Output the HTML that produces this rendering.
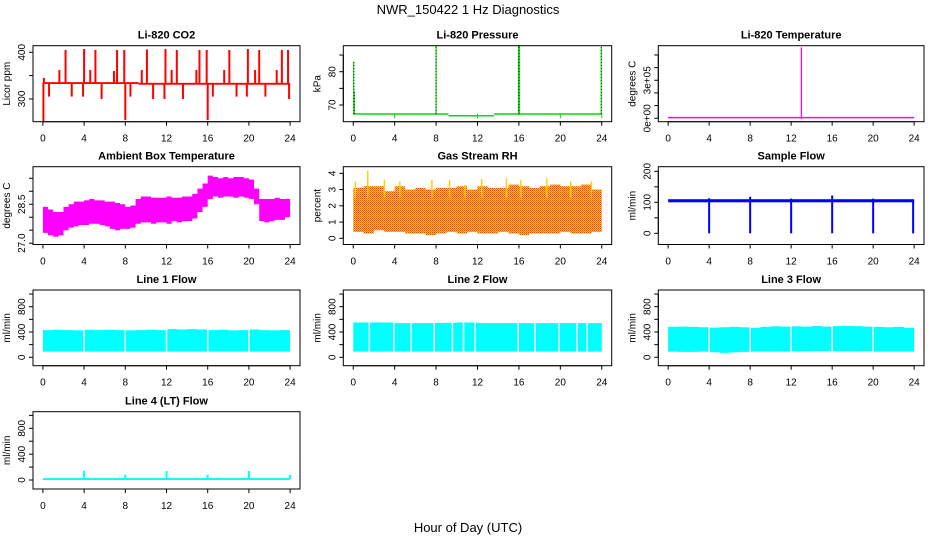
<!DOCTYPE html>
<html><head><meta charset="utf-8"><style>
html,body{margin:0;padding:0;background:#fff;}
svg{display:block;font-family:"Liberation Sans",sans-serif;}
</style></head><body>
<svg id="c" width="936" height="540" viewBox="0 0 936 540" xmlns="http://www.w3.org/2000/svg">
<defs>
<pattern id="rhpat" width="2" height="2" patternUnits="userSpaceOnUse">
<rect width="2" height="2" fill="#ffd800"/><rect width="1" height="1" fill="#ff3000"/><rect x="1" y="1" width="1" height="1" fill="#f07000"/>
</pattern>
</defs>
<text x="468" y="14" text-anchor="middle" font-size="13">NWR_150422 1 Hz Diagnostics</text>
<text x="468" y="532" text-anchor="middle" font-size="13">Hour of Day (UTC)</text>
</svg>
<script>
// ---------- data ----------
const xTicks=[0,4,8,12,16,20,24];
// CO2
const co2BaseHours=[0,9.3,24];
const co2BaseVals=[334,332.5,332.5];
const co2SpikeHours=[2.2,4.0,5.1,7.2,7.9,10.1,11.9,13.0,15.2,15.9,18.1,19.9,21.0,23.2,23.8,1.6,4.6,6.9,9.6,12.5,14.9,17.6,20.6,22.7,0.1,0.6,2.8,3.9,5.7,8.5,10.7,11.8,13.6,16.5,18.8,19.8,21.6,23.9,0.05,8.0,16.0];
const co2SpikeVals=[405,407,405,405,405,406,407,405,405,405,405,407,405,405,405,362,362,360,362,362,362,362,362,362,345,305,305,305,300,305,300,300,300,305,305,305,305,300,252,255,255];
// Pressure
const presBaseHours=[0,9.2,13.6,24];
const presBaseVals=[67.3,66.8,67.3,67.3];
const presSpikeHours=[0.05,0.1,8.0,16.0,23.95];
const presSpikeVals=[83,74,88,88,87.5];
const presDipHours=[4,12,20,24];
const presDipVals=[66,66,66,66];
// Temperature
const tempLevel=[5000];
const tempSpikeHour=[13];
const tempSpikeVal=[560000];
// Ambient box temperature (half-hour bins)
const ambHi=[28.4,28.3,28.2,28.2,28.4,28.5,28.6,28.6,28.65,28.7,28.65,28.65,28.6,28.6,28.55,28.5,28.4,28.45,28.7,28.8,28.8,28.75,28.75,28.75,28.8,28.75,28.75,28.8,28.8,28.9,29.1,29.3,29.6,29.55,29.5,29.55,29.5,29.55,29.55,29.5,29.45,29.1,28.7,28.7,28.7,28.75,28.7,28.7];
const ambLo=[27.4,27.3,27.25,27.3,27.5,27.6,27.65,27.7,27.7,27.75,27.75,27.7,27.65,27.55,27.5,27.55,27.55,27.6,27.75,27.8,27.8,27.75,27.8,27.8,27.75,27.85,27.8,27.85,27.85,27.95,28.2,28.4,28.7,28.8,28.75,28.8,28.8,28.75,28.8,28.75,28.7,28.5,27.85,27.8,27.85,27.9,27.9,28.0];
// RH (hourly bins)
const rhHi=[3.1,3.2,3.2,2.9,3.2,3.0,3.1,3.0,3.1,3.1,3.2,3.0,3.2,3.1,3.1,3.3,3.2,3.1,3.2,3.3,3.2,3.2,3.3,3.0];
const rhLo=[0.4,0.3,0.5,0.4,0.4,0.3,0.3,0.2,0.3,0.4,0.3,0.4,0.3,0.3,0.4,0.3,0.2,0.3,0.3,0.3,0.4,0.3,0.3,0.4];
const rhPeakHours=[0.2,1.4,3.0,4.5,7.6,9.3,10.8,12.4,14.8,16.2,18.7,21.0,23.0];
const rhPeakVals=[3.5,4.15,3.6,3.5,3.6,3.6,3.3,3.65,3.7,3.6,3.7,3.5,3.5];
// Sample flow
const sfBaseLo=[100];
const sfBaseHi=[110];
const sfDipHours=[4,8,12,16,20,23.9];
const sfDipPeaks=[113,118,112,122,112,108];
// Line flows (hourly bins)
const l1Hi=[430,435,430,425,435,430,435,430,425,430,435,430,445,440,445,440,430,435,425,430,440,430,425,430];
const l1Lo=[90,90,90,90,90,90,90,90,90,90,90,90,90,90,90,90,90,90,90,90,90,90,90,90];
const l1Gaps=[4,8,12,16,20];
const l2Hi=[550,550,550,550,540,540,540,540,545,545,550,550,540,540,540,540,540,540,540,540,540,540,540,540];
const l2Lo=[90,90,90,90,90,90,90,90,90,90,90,90,90,90,90,90,90,90,90,90,90,90,90,90];
const l2Gaps=[1.56,3.92,5.6,7.82,9.58,10.65,11.78,15.93,17.55,19.88,21.6,22.6];
const l3Hi=[480,485,480,475,470,475,480,475,465,480,490,485,490,485,495,485,490,495,490,485,480,475,480,465];
const l3Lo=[90,85,85,90,80,70,80,85,90,90,90,90,95,95,100,100,95,95,95,100,90,90,90,90];
const l3Gaps=[4,8,12,16,20];
const l4Base=[15];
const l4SpikeHours=[4,8,12,16,20,24];
const l4SpikeVals=[145,80,140,80,140,80];

// ---------- helpers ----------
const svg=document.getElementById('c');
const NS='http://www.w3.org/2000/svg';
function mk(tag,attrs,parent){const e=document.createElementNS(NS,tag);for(const k in attrs)e.setAttribute(k,attrs[k]);(parent||svg).appendChild(e);return e;}
function panel(p){
  const g=mk('g',{});
  
  
  const xs=h=>p.l+(h-p.xmin)/(p.xmax-p.xmin)*(p.r-p.l);
  const ys=v=>p.b-(v-p.ymin)/(p.ymax-p.ymin)*(p.b-p.t);
  p.xs=xs;p.ys=ys;p.g=g;
  const t=mk('text',{x:(p.l+p.r)/2,y:p.t-7,'text-anchor':'middle','font-size':11,'font-weight':'bold'},g);
  t.textContent=p.title;
  
  
  const yt=mk('text',{x:0,y:0,'text-anchor':'middle','font-size':10,transform:`translate(${p.l-23},${(p.t+p.b)/2}) rotate(-90)`},g);
  yt.textContent=p.ylab;
  
  
  return p;
}
function axes(p){
  const g=p.g;const xs=p.xs,ys=p.ys;
  mk('rect',{x:p.l,y:p.t,width:p.r-p.l,height:p.b-p.t,fill:'none',stroke:'#000','stroke-width':1},g);
  mk('line',{x1:xs(0),x2:xs(24),y1:p.b,y2:p.b,stroke:'#000'},g);
  xTicks.forEach(h=>{
    mk('line',{x1:xs(h),x2:xs(h),y1:p.b,y2:p.b+4,stroke:'#000'},g);
    if(p.xlabels){const tx=mk('text',{x:xs(h),y:p.b+20,'text-anchor':'middle','font-size':10},g);tx.textContent=h;
    
    }
  });
  mk('line',{x1:p.l,x2:p.l,y1:ys(p.yt[0]),y2:ys(p.yt[p.yt.length-1]),stroke:'#000'},g);
  p.yt.forEach((v,i)=>{
    mk('line',{x1:p.l-4,x2:p.l,y1:ys(v),y2:ys(v),stroke:'#000'},g);
    const lab=p.ylabs[i];
    if(lab){const tx=mk('text',{x:0,y:0,'text-anchor':'middle','font-size':10,transform:`translate(${p.l-8},${ys(v)}) rotate(-90)`},g);tx.textContent=lab;
    
    }
  });
}
function vline(p,h,v1,v2,color,w,extra){const e=mk('line',Object.assign({x1:p.xs(h),x2:p.xs(h),y1:p.ys(v1),y2:p.ys(v2),stroke:color,'stroke-width':w||1},extra||{}),p.g);return e;}
function band(p,hi,lo,color,binW){
  let top='',bot='';
  hi.forEach((v,i)=>{const a=p.xs(i*binW),b=p.xs((i+1)*binW);top+=`${a},${p.ys(v)} ${b},${p.ys(v)} `;});
  for(let i=lo.length-1;i>=0;i--){const a=p.xs(i*binW),b=p.xs((i+1)*binW);bot+=`${b},${p.ys(lo[i])} ${a},${p.ys(lo[i])} `;}
  const e=mk('polygon',{points:top+bot,fill:color},p.g);
  
  
  return e;
}
function gaps(p,arr,hi,lo){arr.forEach(h=>{const e=vline(p,h,lo-20,hi+20,'#fff',1.5);
  
  });}

const C1={l:33,r:300},C2={l:343.3,r:611.7},C3={l:658.3,r:924};
const R1={t:45.7,b:121.7},R2={t:166.7,b:244.5},R3={t:290,b:365.7},R4={t:411.7,b:489};
const X={xmin:-0.96,xmax:24.96,xlabels:true};
function P(c,r,o){return panel(Object.assign({},c,r,X,o));}

// CO2
let p=P(C1,R1,{name:'panel-co2',title:'Li-820 CO2',ylab:'Licor ppm',ymin:251.3,ymax:414.1,yt:[300,350,400],ylabs:['300','','400']});
for(let i=0;i<co2BaseHours.length-1;i++){const e=mk('rect',{x:p.xs(co2BaseHours[i]),width:p.xs(co2BaseHours[i+1])-p.xs(co2BaseHours[i]),y:p.ys(co2BaseVals[i]+2),height:p.ys(co2BaseVals[i]-2)-p.ys(co2BaseVals[i]+2),fill:'#ff0000'},p.g);
  
  }
co2SpikeHours.forEach((h,i)=>{const base=h<9.3?334:332.5;const e=vline(p,h,base,co2SpikeVals[i],'#ff0000',2);
  
  });
axes(p);

// Pressure
p=P(C2,R1,{name:'panel-pressure',title:'Li-820 Pressure',ylab:'kPa',ymin:65.0,ymax:87.8,yt:[70,75,80,85],ylabs:['70','','80','']});
for(let i=0;i<presBaseHours.length-1;i++){const e=mk('line',{x1:p.xs(presBaseHours[i]),x2:p.xs(presBaseHours[i+1]),y1:p.ys(presBaseVals[i]),y2:p.ys(presBaseVals[i]),stroke:'#00dd00','stroke-width':1.5},p.g);
  
  }
presDipHours.forEach((h,i)=>{const e=vline(p,h,67.3,presDipVals[i],'#00dd00',1);
  
  });
presSpikeHours.forEach((h,i)=>{const e=vline(p,h,67.3,presSpikeVals[i],'#00dd00',h==16?2:1.2);
  
  
  const d=vline(p,h,67.3,presSpikeVals[i],'#000',0.8,{'stroke-dasharray':'1 2'});
  
  });
axes(p);

// Temperature
p=P(C3,R1,{name:'panel-li820-temperature',title:'Li-820 Temperature',ylab:'degrees C',ymin:-27000,ymax:573000,yt:[0,100000,200000,300000,400000,500000],ylabs:['0e+00','','','3e+05','','']});
let e=mk('line',{x1:p.xs(0),x2:p.xs(24),y1:p.ys(tempLevel[0]),y2:p.ys(tempLevel[0]),stroke:'#ff00ff','stroke-width':1.5},p.g);


e=vline(p,tempSpikeHour[0],-5000,tempSpikeVal[0],'#ff00ff',1.3);


axes(p);

// Ambient
p=P(C1,R2,{name:'panel-ambient-temperature',title:'Ambient Box Temperature',ylab:'degrees C',ymin:26.95,ymax:29.946,yt:[27,27.5,28,28.5,29,29.5],ylabs:['27.0','','','28.5','','']});
band(p,ambHi,ambLo,'#ff00ff',0.5);
axes(p);

// RH
p=P(C2,R2,{name:'panel-gas-stream-rh',title:'Gas Stream RH',ylab:'percent',ymin:-0.38,ymax:4.406,yt:[0,1,2,3,4],ylabs:['0','1','2','3','4']});
band(p,rhHi,rhLo,'url(#rhpat)',1);
rhPeakHours.forEach((h,i)=>{const e=vline(p,h,2.5,rhPeakVals[i],'#ffd000',1.5);
  
  });
axes(p);

// Sample flow
p=P(C3,R2,{name:'panel-sample-flow',title:'Sample Flow',ylab:'ml/min',ymin:-36,ymax:214.8,yt:[0,50,100,150,200],ylabs:['0','','100','','200']});
e=mk('rect',{x:p.xs(0),width:p.xs(24)-p.xs(0),y:p.ys(sfBaseHi[0]),height:p.ys(sfBaseLo[0])-p.ys(sfBaseHi[0]),fill:'#0000ff'},p.g);


sfDipHours.forEach((h,i)=>{const e=vline(p,h,0,sfDipPeaks[i],'#0000ff',2);
  
  });
axes(p);

const flowT={ymin:-133,ymax:1064,yt:[0,200,400,600,800,1000],ylabs:['0','','400','','800',''],ylab:'ml/min'};
// Line 1
p=P(C1,R3,Object.assign({name:'panel-line1-flow',title:'Line 1 Flow'},flowT));
band(p,l1Hi,l1Lo,'#00ffff',1);gaps(p,l1Gaps,460,90);
axes(p);
// Line 2
p=P(C2,R3,Object.assign({name:'panel-line2-flow',title:'Line 2 Flow'},flowT));
band(p,l2Hi,l2Lo,'#00ffff',1);gaps(p,l2Gaps,550,90);
axes(p);
// Line 3
p=P(C3,R3,Object.assign({name:'panel-line3-flow',title:'Line 3 Flow'},flowT));
band(p,l3Hi,l3Lo,'#00ffff',1);gaps(p,l3Gaps,510,70);
axes(p);
// Line 4
p=P(C1,R4,Object.assign({name:'panel-line4-flow',title:'Line 4 (LT) Flow'},flowT,{ymin:-139,ymax:1057}));
e=mk('rect',{x:p.xs(0),width:p.xs(24)-p.xs(0),y:p.ys(l4Base[0]+15),height:p.ys(0)-p.ys(l4Base[0]+15),fill:'#00ffff'},p.g);


l4SpikeHours.forEach((h,i)=>{const e=vline(p,h,l4Base[0],l4SpikeVals[i],'#00ffff',2);
  
  });
axes(p);
</script>
</body></html>
